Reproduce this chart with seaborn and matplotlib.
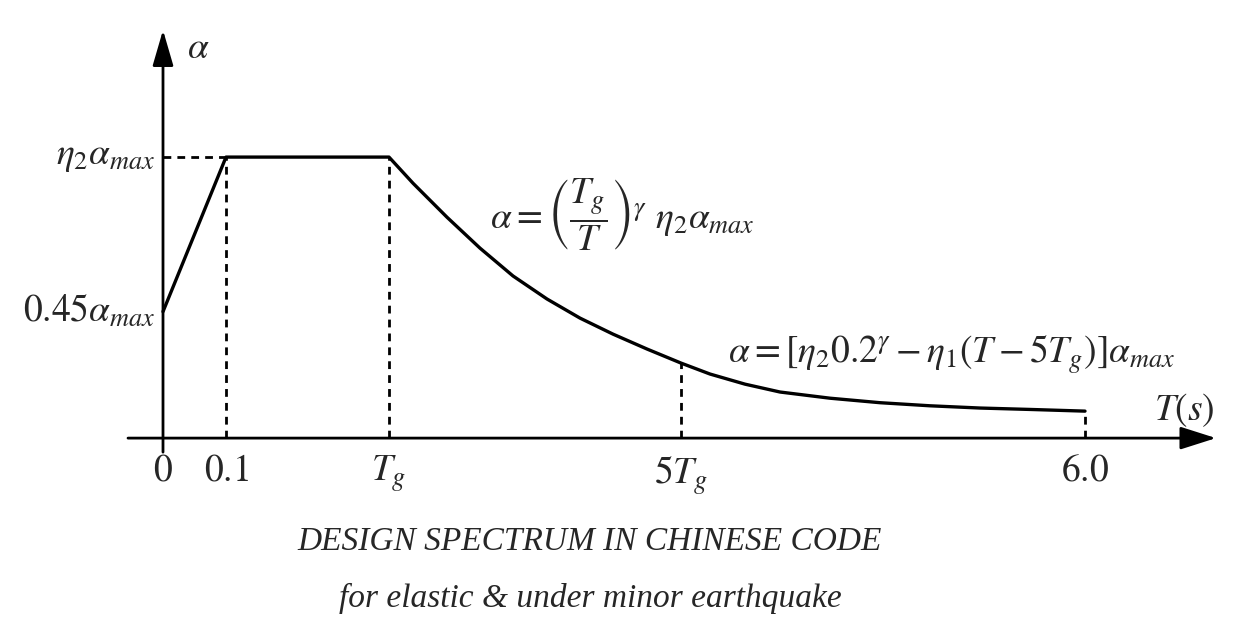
import matplotlib
matplotlib.use("Agg")
from matplotlib import pyplot as plt
import seaborn as sns
import pandas as pd

# schematic positions of the spectrum (x in diagram units, y relative to eta2*alpha_max)
curve_x = [0.0, 0.63, 2.26, 2.50, 2.84, 3.17, 3.50, 3.84, 4.17, 4.50, 4.84, 5.18,
           5.47, 5.82, 6.17, 6.67, 7.17, 7.67, 8.17, 8.67, 9.22]
curve_y = [0.45, 1.0, 1.0, 0.907, 0.786, 0.676, 0.577, 0.495, 0.427, 0.370, 0.317, 0.267,
           0.228, 0.192, 0.164, 0.142, 0.126, 0.115, 0.107, 0.102, 0.096]

tick_x = [0.0, 0.63, 2.26, 5.18, 9.22]
tick_labels = [r'$0$', r'$0.1$', r'$T_g$', r'$5T_g$', r'$6.0$']
# height of dashed drop lines at each tick
drop_y = [0.0, 1.0, 1.0, 0.267, 0.096]

level_y = [1.0, 0.45]
level_labels = [r'$\eta_2\alpha_{max}$', r'$0.45\alpha_{max}$']

formula_1 = r'$\alpha=\left(\dfrac{T_g}{T}\right)^{\gamma}\ \eta_2\alpha_{max}$'
formula_2 = r'$\alpha=[\eta_2 0.2^{\gamma}-\eta_1(T-5T_g)]\alpha_{max}$'
title_lines = ['DESIGN SPECTRUM IN CHINESE CODE', 'for elastic & under minor earthquake']

sns.set_style('white')
plt.rcParams['mathtext.fontset'] = 'stix'
plt.rcParams['font.family'] = ['Liberation Serif', 'DejaVu Serif']

fig = plt.figure(figsize=(12.36, 6.41), dpi=100)
ax = fig.add_axes([0, 0, 1, 1])
ax.set_xlim(-1.63, 10.73)
ax.set_ylim(-0.722, 1.559)
ax.axis('off')

# axes with arrows
ax.annotate('', xy=(10.53, 0), xytext=(-0.35, 0),
            arrowprops=dict(arrowstyle='-|>,head_length=1.1,head_width=0.35', mutation_scale=20,
                            lw=2, color='black', shrinkA=0, shrinkB=0))
ax.annotate('', xy=(0, 1.452), xytext=(0, -0.05),
            arrowprops=dict(arrowstyle='-|>,head_length=1.1,head_width=0.32', mutation_scale=20,
                            lw=2, color='black', shrinkA=0, shrinkB=0))

# dashed guides
dash = (0, (2.8, 2.2))
ax.hlines(level_y[0], 0, tick_x[1], colors='black', lw=2, linestyles=[dash])
for x, top in zip(tick_x[1:], drop_y[1:]):
    ax.vlines(x, 0, top, colors='black', lw=2, linestyles=[dash])

df = pd.DataFrame({'T': curve_x, 'alpha': curve_y})
sns.lineplot(data=df, x='T', y='alpha', ax=ax, color='black', lw=2.4, sort=False)

fs = 27
for x, lab in zip(tick_x, tick_labels):
    ax.text(x, -0.055, lab, ha='center', va='top', fontsize=fs)
for y, lab in zip(level_y, level_labels):
    ax.text(-0.08, y, lab, ha='right', va='center', fontsize=fs)

ax.text(0.24, 1.385, r'$\alpha$', ha='left', va='center', fontsize=fs)
ax.text(10.52, 0.10, r'$T(s)$', ha='right', va='center', fontsize=fs)
ax.text(3.27, 0.795, formula_1, ha='left', va='center', fontsize=fs)
ax.text(5.65, 0.30, formula_2, ha='left', va='center', fontsize=fs)

ax.text(4.27, -0.37, title_lines[0], ha='center', va='center', fontsize=24, style='italic')
ax.text(4.27, -0.57, title_lines[1], ha='center', va='center', fontsize=24, style='italic')

fig.savefig('out.png', dpi=100)
